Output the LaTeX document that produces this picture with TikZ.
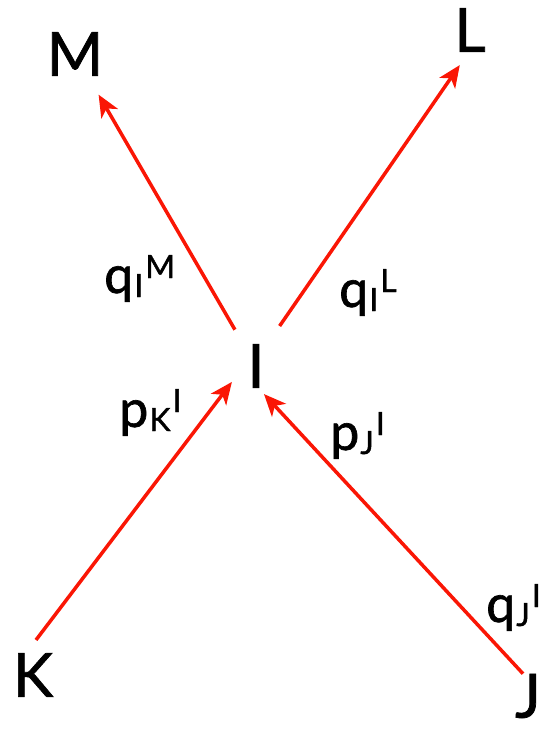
\documentclass[tikz,border=0pt]{standalone}
\usepackage{fontspec}
\setmainfont{Lato}
\newfontfamily\heavy{Lato}[FakeBold=1.2]
\usetikzlibrary{arrows.meta}
\definecolor{arrred}{RGB}{250,22,5}
\newcommand{\subf}{\fontsize{32}{32}\selectfont}
\newcommand{\lbl}[3]{#1\kern1pt\raisebox{-4pt}{\subf #2}\kern2pt\raisebox{15pt}{\subf #3}}
\begin{document}
\begin{tikzpicture}[x=1pt,y=-1pt,
  vertex/.style={inner sep=0pt, font=\heavy\fontsize{61}{61}\selectfont},
  lab/.style={inner sep=0pt, anchor=base west, font=\heavy\fontsize{52}{52}\selectfont},
  flow/.style={draw=arrred, line width=3.5pt, -{Stealth[length=22pt,width=19pt,inset=6pt]}}]
\useasboundingbox (0,0) rectangle (544,732);
\node[vertex] (M) at (75,54) {M};
\node[vertex] (L) at (470,30) {L};
\node[vertex] (I) at (256,366) {I};
\node[vertex] (K) at (33,675) {K};
\node[vertex] (J) at (528,696) {J};
\draw[flow, shorten <=42pt, shorten >=47pt] (I.center) -- (M.center);
\draw[flow, shorten <=48.6pt, shorten >=42.6pt] ([xshift=-4pt]I.center) -- ([xshift=14pt]L.center);
\draw[flow, shorten <=44pt, shorten >=20pt] ([xshift=-23.6pt]K.center) -- ([xshift=-12pt]I.center);
\draw[flow, shorten >=8.2pt] ([xshift=-5pt]J.north) -- ([xshift=2.4pt]I.south);
\node[lab] (qIM) at (104,293) {\lbl{q}{I}{M}};
\node[lab] (qIL) at (339,307) {\lbl{q}{I}{L}};
\node[lab] (pKI) at (119,427) {\lbl{p}{K}{I}};
\node[lab] (pJI) at (330,450) {\lbl{p}{J}{I}};
\node[lab] (qJI) at (486,622) {\lbl{q}{J}{I}};
\end{tikzpicture}
\end{document}
